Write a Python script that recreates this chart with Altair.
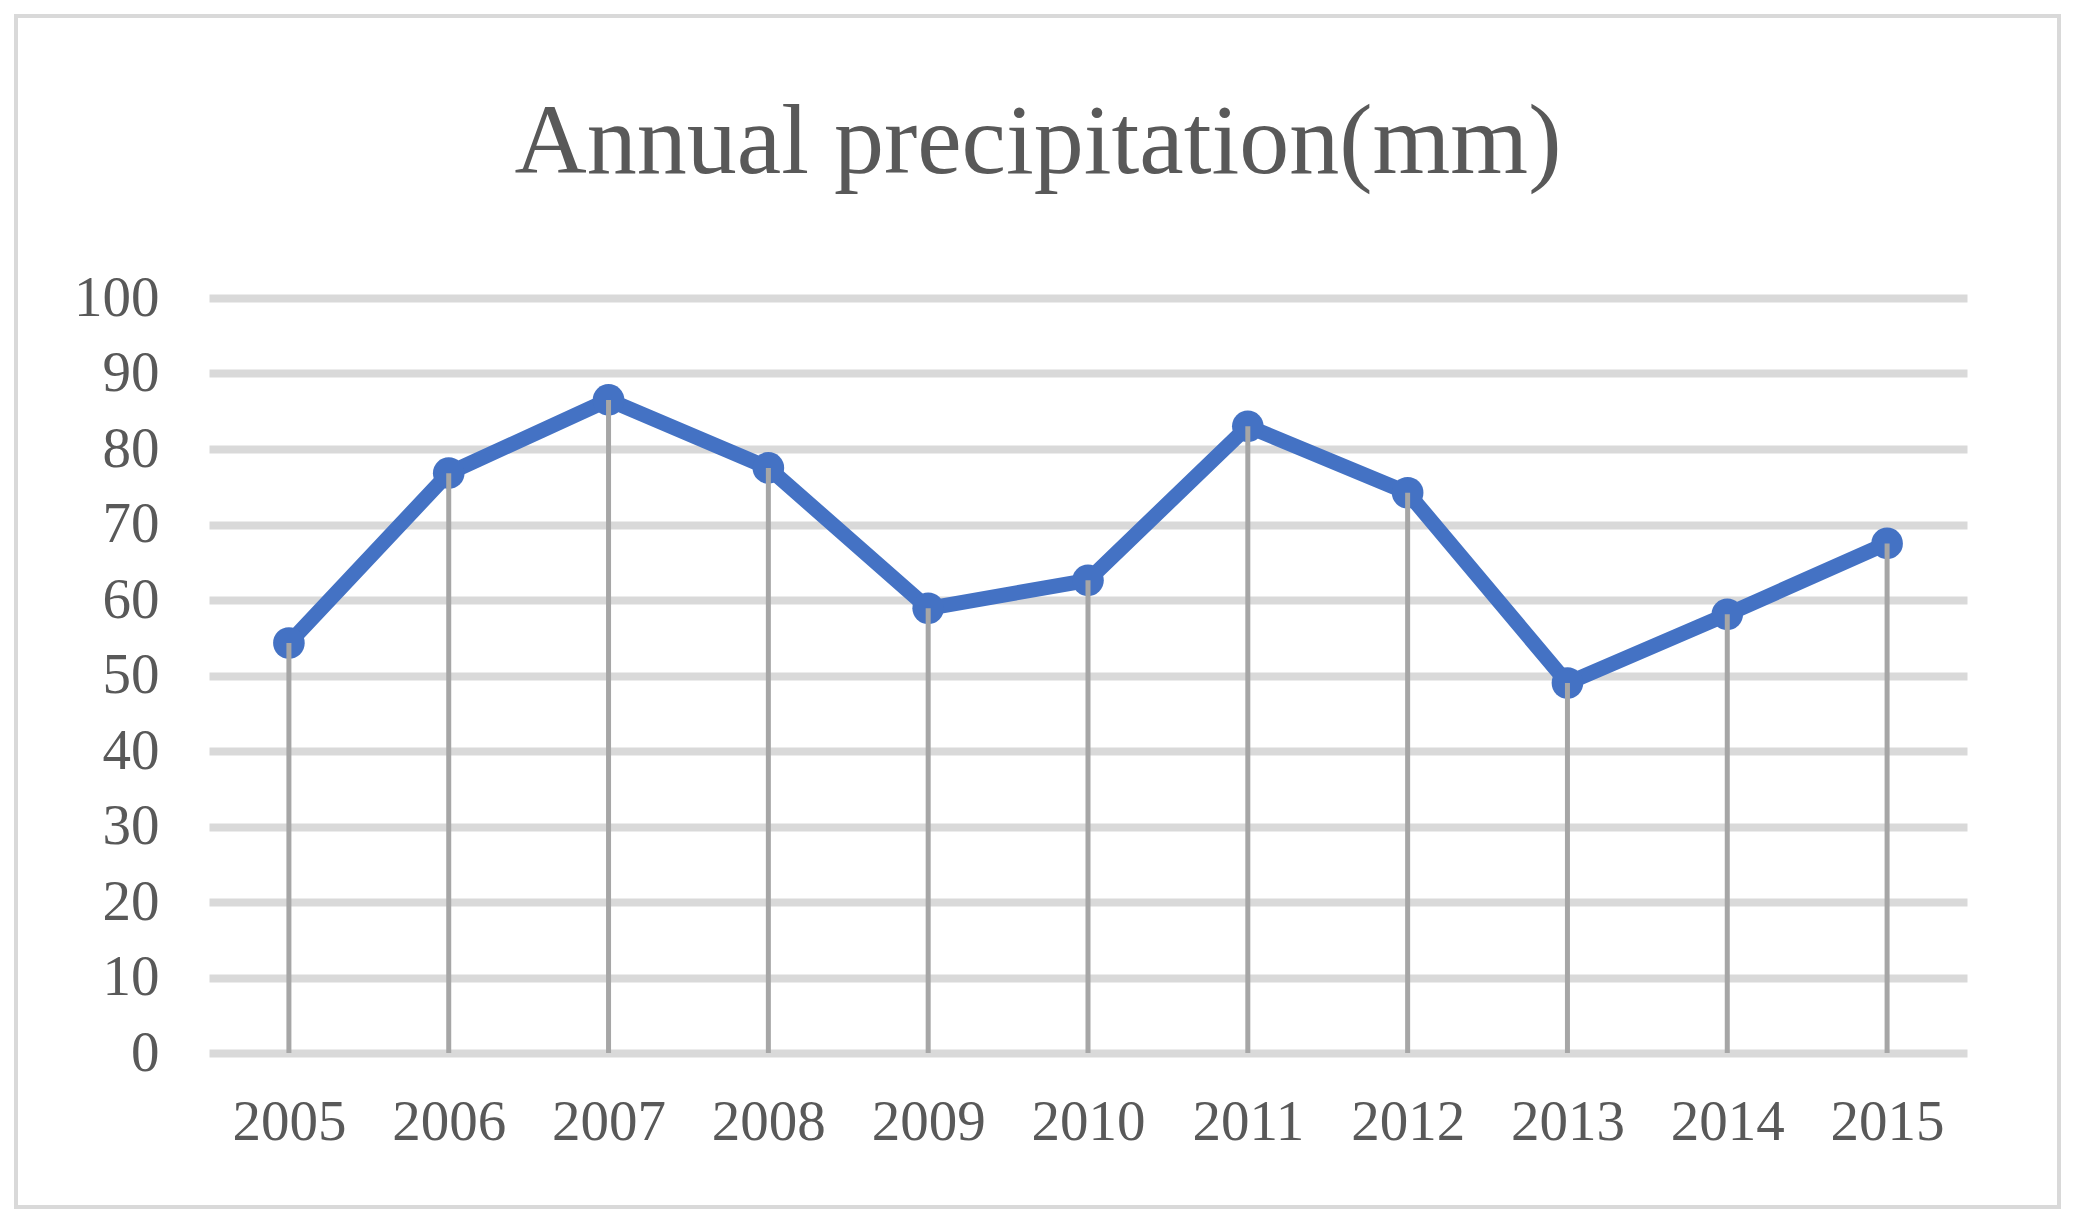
import altair as alt
import pandas as pd

years = ["2005", "2006", "2007", "2008", "2009", "2010", "2011", "2012", "2013", "2014", "2015"]
precip = [54.3, 76.8, 86.5, 77.5, 58.9, 62.6, 83.0, 74.2, 49.0, 58.1, 67.5]
y_ticks = [0, 10, 20, 30, 40, 50, 60, 70, 80, 90, 100]
title_text = "Annual precipitation(mm)"

df = pd.DataFrame({"year": years, "value": precip})

FONT = "Liberation Serif"
TEXT_COLOR = "#595959"
BLUE = "#4472C4"

x_enc = alt.X("year:N", sort=years,
              scale=alt.Scale(type="point", padding=0.5),
              axis=alt.Axis(title=None, labelAngle=0, ticks=False, tickSize=0,
                            domain=False, grid=False, labelPadding=41,
                            labelFont=FONT, labelFontSize=57, labelColor=TEXT_COLOR))
y_enc = alt.Y("value:Q", scale=alt.Scale(domain=[0, 100], nice=False),
              axis=alt.Axis(title=None, values=y_ticks, ticks=False, tickSize=0,
                            domain=False, grid=True, gridColor="#d9d9d9", gridWidth=8,
                            labelPadding=50, labelFont=FONT, labelFontSize=57,
                            labelColor=TEXT_COLOR))

base = alt.Chart(df)

line = base.mark_line(color=BLUE, strokeWidth=15, strokeJoin="round").encode(x=x_enc, y=y_enc)
points = base.mark_point(filled=True, color=BLUE, size=1000, opacity=1).encode(x="year:N", y="value:Q")
drops = base.mark_rule(color="#a6a6a6", strokeWidth=5).encode(
    x="year:N", y="value:Q", y2=alt.datum(0))

frame = alt.Chart(pd.DataFrame({"k": [0]})).mark_rect(
    filled=False, stroke="#d9d9d9", strokeWidth=4
).encode(x=alt.value(-193), x2=alt.value(1850), y=alt.value(-282), y2=alt.value(909))

chart = alt.layer(line, points, drops, frame).properties(
    width=1758, height=755,
    background="white",
    autosize=alt.AutoSizeParams(type="none"),
    padding={"left": 201, "top": 290, "right": 100, "bottom": 160},
    title=alt.TitleParams(title_text, font=FONT, fontSize=100, fontWeight="normal",
                          color=TEXT_COLOR, anchor="middle", dx=-50,
                          baseline="alphabetic", offset=-259),
).configure_view(stroke="transparent", strokeWidth=0)

chart.save("out.html", embed_options={"renderer": "svg", "actions": False})
